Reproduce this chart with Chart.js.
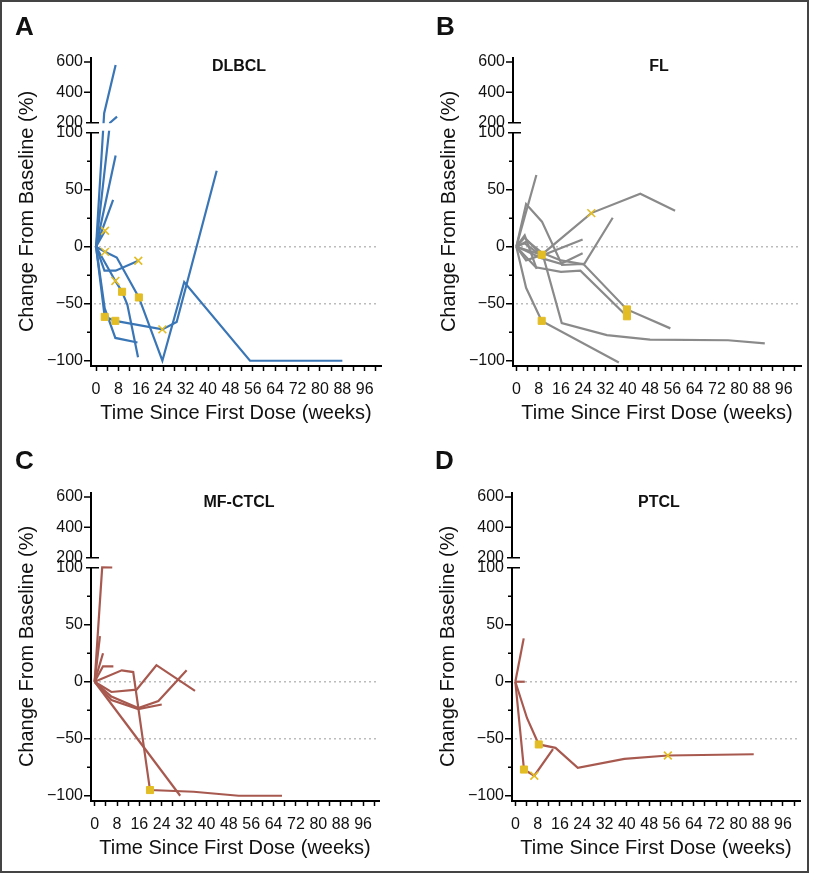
<!DOCTYPE html>
<html>
<head>
<meta charset="utf-8">
<script src="https://cdn.jsdelivr.net/npm/chart.js@4.4.1/dist/chart.umd.min.js"></script>
<style>
  body { margin: 0; background: #fff; }
  #page { position: relative; width: 814px; height: 875px; font-family: 'Liberation Sans', Arial, sans-serif; color: #111; }
  #frame { position: absolute; left: 0; top: 0; width: 809px; height: 873px; border: 2px solid #444; box-sizing: border-box; }
  canvas { position: absolute; }
  .letter { position: absolute; font-size: 26px; font-weight: bold; line-height: 26px; }
  .name { position: absolute; width: 200px; margin-left: -100px; text-align: center; font-size: 16px; font-weight: bold; line-height: 16px; }
</style>
</head>
<body>
<div id="page">
  <div id="frame"></div>
  <canvas id="cA" width="407" height="437" style="left:0;top:0"></canvas>
  <canvas id="cB" width="407" height="437" style="left:407px;top:0"></canvas>
  <canvas id="cC" width="407" height="437" style="left:0;top:435px"></canvas>
  <canvas id="cD" width="407" height="437" style="left:407px;top:435px"></canvas>
  <div class="letter" style="left:15px;top:13px">A</div>
  <div class="letter" style="left:436px;top:13px">B</div>
  <div class="letter" style="left:15px;top:447px">C</div>
  <div class="letter" style="left:435px;top:447px">D</div>
  <div class="name" id="nA" style="left:239px;top:58px"></div>
  <div class="name" id="nB" style="left:659px;top:58px"></div>
  <div class="name" id="nC" style="left:239px;top:494px"></div>
  <div class="name" id="nD" style="left:659px;top:494px"></div>
</div>
<script>
// panel names
const panelNames = ['DLBCL', 'FL', 'MF-CTCL', 'PTCL'];

// axis ticks
const xTicks = [0, 4, 8, 12, 16, 20, 24, 28, 32, 36, 40, 44, 48, 52, 56, 60, 64, 68, 72, 76, 80, 84, 88, 92, 96, 100];
const xLabels = [0, 8, 16, 24, 32, 40, 48, 56, 64, 72, 80, 88, 96];
const yTicks = [-100, -75, -50, -25, 0, 25, 50, 75, 100, 200, 400, 600];
const yLabels = [-100, -50, 0, 50, 100, 200, 400, 600];
const refLines = [0, -50];

// marks: 0 = none, 1 = square, 2 = cross
// DLBCL
const dlbclWeeks = [
    [0, 2.9, 7],
    [0, 5, 7.5],
    [0, 7],
    [0, 6.1],
    [0, 3.2],
    [0, 3.2, 7.4, 15.3, 23.7, 31.5, 55, 88],
    [0, 3, 7, 15.1],
    [0, 6.9, 9.3, 11.2, 15],
    [0, 3.1, 6.9, 23.7, 28.8, 43.1],
    [0, 3.1, 6.9, 14.8]
];
const dlbclChange = [
    [0, 263, 580],
    [0, 200, 240],
    [0, 80],
    [0, 41],
    [0, 14],
    [0, -4.5, -9.5, -44.5, -100, -31, -100, -100],
    [0, -21, -21, -12.3],
    [0, -30, -39.5, -51, -97],
    [0, -61.5, -65, -72.5, -66, 66.7],
    [0, -54, -80, -84]
];
const dlbclMarks = [
    [0, 0, 0],
    [0, 0, 0],
    [0, 0],
    [0, 0],
    [0, 2],
    [0, 2, 0, 1, 0, 0, 0, 0],
    [0, 0, 0, 2],
    [0, 2, 1, 0, 0],
    [0, 1, 1, 2, 0, 0],
    [0, 0, 0, 0]
];

// FL
const flWeeks = [
    [0, 3.5, 9.2, 16.4, 24, 39.7, 55.3],
    [0, 7, 16, 23, 39.7],
    [0, 4, 9, 16, 24.3, 34.6],
    [0, 9.1, 26.9, 44.5, 57],
    [0, 3, 9, 23.8],
    [0, 3, 9, 16, 23.8],
    [0, 3, 9.7, 16.3, 32.5, 48, 76, 89.2],
    [0, 3.5, 9.1, 36.8],
    [0, 7.2],
    [0, 3, 7.3],
    [0, 3.5, 8]
];
const flChange = [
    [0, 37.5, 22, -16, -15, -55, -71.6],
    [0, -18, -22, -21, -61],
    [0, 5, -5, -12, -15.5, 25.4],
    [0, -7, 29.5, 46.5, 31.5],
    [0, 3, -8, 6.4],
    [0, -3, -10, -15, -5.8],
    [0, 8, -8.8, -67, -77.5, -81.5, -82, -84.7],
    [0, -36, -65, -101.5],
    [0, 62.9],
    [0, 10, -19.5],
    [0, -12, -8]
];
const flMarks = [
    [0, 0, 0, 0, 0, 1, 0],
    [0, 0, 0, 0, 1],
    [0, 0, 0, 0, 0, 0],
    [0, 1, 2, 0, 0],
    [0, 0, 0, 0],
    [0, 0, 0, 0, 0],
    [0, 0, 0, 0, 0, 0, 0, 0],
    [0, 0, 1, 0],
    [0, 0],
    [0, 0, 0],
    [0, 0, 0]
];

// MF-CTCL
const ctclWeeks = [
    [0, 2.7, 6.3],
    [0, 1.9],
    [0, 3],
    [0, 3, 6.7],
    [0, 9.7, 13.8, 19.8, 35.4, 51.5, 67],
    [0, 6, 15, 22.1, 35.9],
    [0, 6, 15.6, 22.8, 32.9],
    [0, 6, 15.6, 24],
    [0, 30.6]
];
const ctclChange = [
    [0, 104, 102],
    [0, 40],
    [0, 25],
    [0, 13.5, 13.5],
    [0, 10, 8.5, -95, -96.5, -100, -100],
    [0, -9, -7, 14.5, -8],
    [0, -13, -23, -17, 10],
    [0, -16, -24, -20],
    [0, -100]
];
const ctclMarks = [
    [0, 0, 0],
    [0, 0],
    [0, 0],
    [0, 0, 0],
    [0, 0, 0, 1, 0, 0, 0],
    [0, 0, 0, 0, 0],
    [0, 0, 0, 0, 0],
    [0, 0, 0, 0],
    [0, 0]
];

// PTCL
const ptclWeeks = [
    [0, 3],
    [0, 3.4],
    [0, 3.1, 6.8, 13.5],
    [0, 4.2, 8.4, 14.4, 22.4, 39.1, 54.7, 85.5]
];
const ptclChange = [
    [0, 38],
    [0, 0],
    [0, -77, -82.4, -59],
    [0, -32, -55, -58, -75.4, -67.6, -64.7, -63.6]
];
const ptclMarks = [
    [0, 0],
    [0, 0],
    [0, 1, 2, 0],
    [0, 0, 1, 0, 0, 0, 2, 0]
];

const blue = '#3a76b6';
const gray = '#8a8a8a';
const rust = '#a8594f';
const gold = '#e3bd25';

// broken y axis: lower part -100..100, upper part 200..600 squeezed above a gap
const GAP = 8.77;
const UPPER = 0.1331;
function toDisplay(v) {
    if (v <= 100) return v;
    if (v >= 200) return 100 + GAP + (v - 200) * UPPER;
    return 100 + (v - 100) * GAP / 100;
}

class BrokenScale extends Chart.LinearScale {
    getPixelForValue(value) {
        return super.getPixelForValue(toDisplay(value));
    }
}
BrokenScale.id = 'broken';
BrokenScale.defaults = Chart.LinearScale.defaults;
Chart.register(BrokenScale);

Chart.defaults.font.family = "'Liberation Sans', Arial, sans-serif";
Chart.defaults.color = '#111';

const brokenAxis = {
    id: 'brokenAxis',
    beforeDatasetsDraw(chart) {
        const { ctx, chartArea: a, scales: { y } } = chart;
        ctx.save();
        ctx.strokeStyle = '#bcbcbc';
        ctx.lineWidth = 1.3;
        ctx.setLineDash([2, 3]);
        refLines.forEach(v => {
            const p = y.getPixelForValue(v);
            ctx.beginPath();
            ctx.moveTo(a.left + 3, p);
            ctx.lineTo(a.right - 3, p);
            ctx.stroke();
        });
        ctx.restore();
    },
    afterDatasetsDraw(chart) {
        const { ctx, chartArea: a, scales: { y } } = chart;
        const p100 = y.getPixelForValue(100);
        const p200 = y.getPixelForValue(200);
        ctx.save();
        ctx.fillStyle = '#fff';
        ctx.fillRect(a.left + 1, p200 + 0.5, a.right - a.left, p100 - p200 - 2.5);

        ctx.strokeStyle = '#000';
        ctx.lineWidth = 2;
        ctx.beginPath();
        ctx.moveTo(a.left, a.top);
        ctx.lineTo(a.left, p200);
        ctx.moveTo(a.left, p100);
        ctx.lineTo(a.left, a.bottom + 1);
        ctx.stroke();

        ctx.lineWidth = 1.5;
        ctx.beginPath();
        yTicks.forEach(v => {
            const p = y.getPixelForValue(v);
            if (v === 100 || v === 200) {
                ctx.moveTo(a.left - 5, p);
                ctx.lineTo(a.left + 8, p);
            } else {
                ctx.moveTo(a.left - (yLabels.includes(v) ? 7 : 4), p);
                ctx.lineTo(a.left, p);
            }
        });
        ctx.stroke();
        ctx.restore();
    }
};

function buildDatasets(weeks, change, marks, color) {
    const sets = weeks.map((w, i) => ({
        data: w.map((x, j) => ({ x: x, y: change[i][j] })),
        showLine: true,
        borderColor: color,
        borderWidth: 2.2,
        pointRadius: 0,
        order: 0
    }));
    const pts = [];
    weeks.forEach((w, i) => w.forEach((x, j) => {
        if (marks[i][j]) pts.push({ x: x, y: change[i][j], kind: marks[i][j] });
    }));
    sets.push({
        data: pts,
        showLine: false,
        order: -1,
        pointStyle: c => c.raw && c.raw.kind === 1 ? 'rect' : 'crossRot',
        pointRadius: c => c.raw && c.raw.kind === 1 ? 5 : 5.5,
        pointBorderWidth: c => c.raw && c.raw.kind === 1 ? 1 : 1.6,
        pointBackgroundColor: gold,
        pointBorderColor: gold
    });
    return sets;
}

const panels = [
    { id: 'cA', name: 'nA', weeks: dlbclWeeks, change: dlbclChange, marks: dlbclMarks, color: blue, pad: [11, 26], xr: [-1.8, 101.8] },
    { id: 'cB', name: 'nB', weeks: flWeeks, change: flChange, marks: flMarks, color: gray, pad: [26, 13], xr: [-1.2, 102.2] },
    { id: 'cC', name: 'nC', weeks: ctclWeeks, change: ctclChange, marks: ctclMarks, color: rust, pad: [11, 28], xr: [-1.3, 101.7] },
    { id: 'cD', name: 'nD', weeks: ptclWeeks, change: ptclChange, marks: ptclMarks, color: rust, pad: [25, 14], xr: [-1.2, 102.1] }
];

panels.forEach((p, k) => {
    document.getElementById(p.name).textContent = panelNames[k];
    new Chart(document.getElementById(p.id), {
        type: 'scatter',
        data: { datasets: buildDatasets(p.weeks, p.change, p.marks, p.color) },
        options: {
            responsive: false,
            animation: false,
            events: [],
            layout: { padding: { left: p.pad[0], right: p.pad[1], top: 57, bottom: 0 } },
            plugins: { legend: { display: false }, tooltip: { enabled: false } },
            scales: {
                x: {
                    type: 'linear',
                    bounds: 'data',
                    min: p.xr[0],
                    max: p.xr[1],
                    afterBuildTicks: s => { s.ticks = xTicks.map(v => ({ value: v })); },
                    afterFit: s => { s.height = 71; },
                    grid: { drawOnChartArea: false, drawTicks: true, tickLength: 5, tickWidth: 1.5, tickColor: '#000' },
                    border: { display: true, color: '#000', width: 2 },
                    ticks: {
                        autoSkip: false,
                        maxRotation: 0,
                        padding: 9,
                        font: { size: 16 },
                        callback: v => xLabels.includes(v) ? String(v) : ''
                    },
                    title: {
                        display: true,
                        text: 'Time Since First Dose (weeks)',
                        font: { size: 20 },
                        padding: { top: 0, bottom: 12 }
                    }
                },
                y: {
                    type: 'broken',
                    bounds: 'data',
                    min: -104.6,
                    max: 166.4,
                    afterBuildTicks: s => { s.ticks = yTicks.map(v => ({ value: v })); },
                    afterFit: s => { s.width = 80; },
                    grid: { display: false, drawTicks: false },
                    border: { display: false },
                    ticks: {
                        autoSkip: false,
                        padding: 8,
                        font: { size: 16 },
                        callback: v => yLabels.includes(v) ? (v < 0 ? '\u2212' + Math.abs(v) : String(v)) : ''
                    },
                    title: {
                        display: true,
                        text: 'Change From Baseline (%)',
                        font: { size: 20 },
                        padding: { top: 4, bottom: 0 }
                    }
                }
            }
        },
        plugins: [brokenAxis]
    });
});
</script>
</body>
</html>
